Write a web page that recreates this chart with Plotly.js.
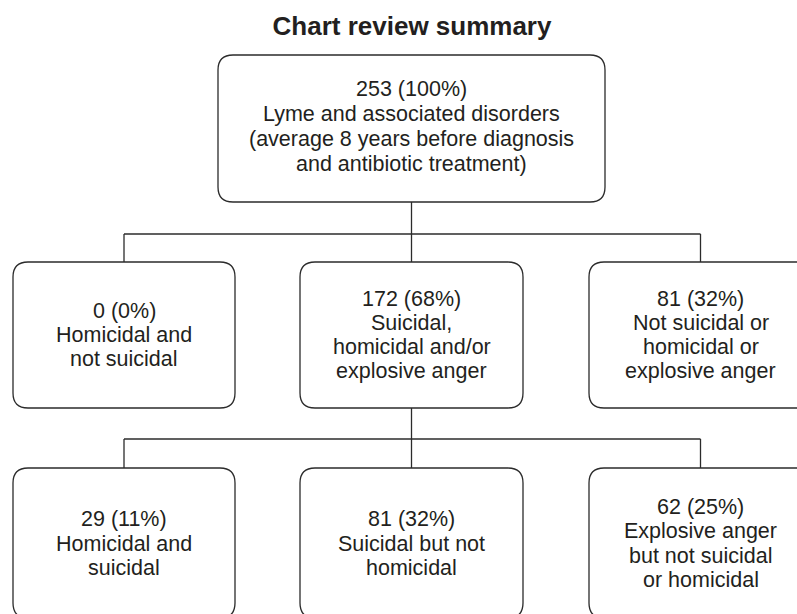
<!DOCTYPE html>
<html>
<head>
<meta charset="utf-8">
<script src="https://cdn.plot.ly/plotly-3.0.1.min.js"></script>
<style>html,body{margin:0;padding:0;background:#fff;}#chart{width:797px;height:614px;}</style>
</head>
<body>
<div id="chart"></div>
<script>
// ---- data ----
const chartTitle = "Chart review summary";
const nodeIds = ["root", "homNotSui", "anyAnger", "none", "homSui", "suiNotHom", "explosive"];
const nodeParents = ["", "root", "root", "root", "anyAnger", "anyAnger", "anyAnger"];
const nodeCounts = [253, 0, 172, 81, 29, 81, 62];
const nodePercents = [100, 0, 68, 32, 11, 32, 25];
const nodeLabels = [
  ["Lyme and associated disorders", "(average 8 years before diagnosis", "and antibiotic treatment)"],
  ["Homicidal and", "not suicidal"],
  ["Suicidal,", "homicidal and/or", "explosive anger"],
  ["Not suicidal or", "homicidal or", "explosive anger"],
  ["Homicidal and", "suicidal"],
  ["Suicidal but not", "homicidal"],
  ["Explosive anger", "but not suicidal", "or homicidal"]
];

// ---- layout geometry (pixel-like coordinates) ----
const W = 797, H = 614;
const boxGeom = {
  root:      {x0: 218, x1: 605, y0: 55,  y1: 202, cy: 126.5, dy: 25},
  homNotSui: {x0: 13,  x1: 235, y0: 262, y1: 408, cy: 335, dy: 24},
  anyAnger:  {x0: 300, x1: 523, y0: 262, y1: 408, cy: 335, dy: 24},
  none:      {x0: 589, x1: 812, y0: 262, y1: 408, cy: 335, dy: 24},
  homSui:    {x0: 13,  x1: 235, y0: 468, y1: 618, cy: 543.5, dy: 24.5},
  suiNotHom: {x0: 300, x1: 523, y0: 468, y1: 618, cy: 543.5, dy: 24.5},
  explosive: {x0: 589, x1: 812, y0: 468, y1: 618, cy: 543.5, dy: 24.5}
};
const connectorY = {root: 234, anyAnger: 439};
const R = 15;
const lineColor = "#2b2b2b";
const textColor = "#231f20";
const fontFamily = "Liberation Sans, Arial, sans-serif";
const fontSize = 21.5;

function roundRect(b) {
  const {x0, x1, y0, y1} = b;
  return `M${x0 + R},${y0} L${x1 - R},${y0} Q${x1},${y0} ${x1},${y0 + R} ` +
         `L${x1},${y1 - R} Q${x1},${y1} ${x1 - R},${y1} L${x0 + R},${y1} ` +
         `Q${x0},${y1} ${x0},${y1 - R} L${x0},${y0 + R} Q${x0},${y0} ${x0 + R},${y0} Z`;
}

const shapes = [];
const annotations = [];

nodeIds.forEach((id, i) => {
  const b = boxGeom[id];
  shapes.push({type: "path", xref: "x", yref: "y", path: roundRect(b),
               line: {color: lineColor, width: 1.3}, fillcolor: "rgba(0,0,0,0)"});
  const lines = [`${nodeCounts[i]} (${nodePercents[i]}%)`].concat(nodeLabels[i]);
  const n = lines.length;
  const cx = (b.x0 + Math.min(b.x1, 812)) / 2;
  lines.forEach((t, k) => {
    annotations.push({x: cx, y: b.cy + (k - (n - 1) / 2) * b.dy, xref: "x", yref: "y",
      text: t, showarrow: false, xanchor: "center", yanchor: "middle",
      font: {family: fontFamily, size: fontSize, color: textColor}});
  });
});

// connectors parent -> children
const parentsUsed = [...new Set(nodeParents.filter(p => p))];
parentsUsed.forEach(p => {
  const pb = boxGeom[p];
  const pcx = (pb.x0 + pb.x1) / 2;
  const yc = connectorY[p];
  const kids = nodeIds.filter((id, i) => nodeParents[i] === p);
  const kcx = kids.map(k => (boxGeom[k].x0 + boxGeom[k].x1) / 2);
  shapes.push({type: "line", xref: "x", yref: "y", x0: pcx, x1: pcx, y0: pb.y1, y1: yc,
               line: {color: lineColor, width: 1.3}});
  shapes.push({type: "line", xref: "x", yref: "y", x0: Math.min(...kcx), x1: Math.max(...kcx), y0: yc, y1: yc,
               line: {color: lineColor, width: 1.3}});
  kids.forEach((k, j) => {
    shapes.push({type: "line", xref: "x", yref: "y", x0: kcx[j], x1: kcx[j], y0: yc, y1: boxGeom[k].y0,
                 line: {color: lineColor, width: 1.3}});
  });
});

const layout = {
  width: W, height: H,
  margin: {l: 0, r: 0, t: 0, b: 0},
  paper_bgcolor: "#fff", plot_bgcolor: "#fff",
  showlegend: false,
  title: {text: chartTitle, x: 412 / W, xanchor: "center", xref: "paper",
          y: 1 - 26 / H, yanchor: "middle", yref: "container",
          font: {family: fontFamily, size: 26, color: textColor, weight: "bold"}},
  xaxis: {range: [0, W], visible: false, fixedrange: true},
  yaxis: {range: [H, 0], visible: false, fixedrange: true},
  shapes: shapes,
  annotations: annotations
};

Plotly.newPlot("chart", [{x: [], y: [], type: "scatter", hoverinfo: "skip"}], layout,
               {displayModeBar: false, staticPlot: true});
</script>
</body>
</html>
